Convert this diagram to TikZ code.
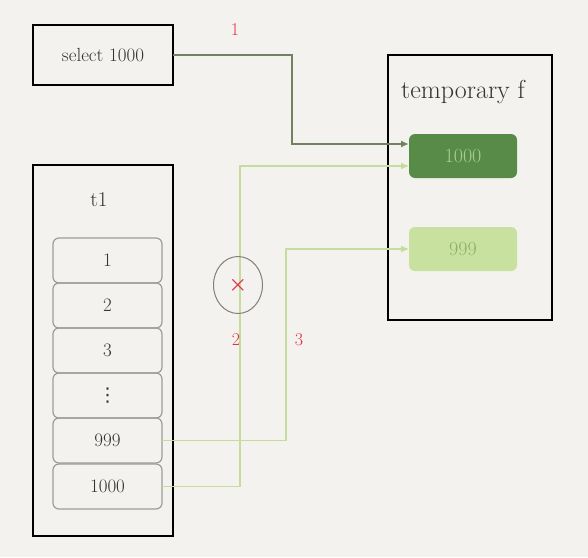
\documentclass[tikz,border=0pt]{standalone}
\usepackage{amsmath}
\usepackage{fontspec}
\newfontfamily\symfont{DejaVu Sans}
\usetikzlibrary{arrows.meta,shapes.geometric}

\definecolor{paper}{HTML}{F3F2EE}
\definecolor{darkline}{HTML}{718260}
\definecolor{lightline}{HTML}{C6DC9C}
\definecolor{darkfill}{HTML}{578B47}
\definecolor{darktext}{HTML}{A9D08A}
\definecolor{lightfill}{HTML}{C8E19F}
\definecolor{lighttext}{HTML}{8EAE6C}
\definecolor{rowline}{HTML}{9C9C9C}
\definecolor{markred}{HTML}{E03347}
\definecolor{ink}{HTML}{333333}

\tikzset{
  box/.style={draw=black, line width=1.4pt, outer sep=0pt, inner sep=0pt, text=ink},
  rowbox/.style={draw=rowline, line width=1.2pt, rounded corners=6pt, outer sep=0pt,
    minimum width=109pt, minimum height=45pt, text=ink, font=\fontsize{19}{22}\selectfont},
  cell/.style={rounded corners=6pt, outer sep=0pt, minimum width=108pt, minimum height=44pt,
    font=\fontsize{20}{24}\selectfont},
  step label/.style={text=markred, font=\fontsize{18}{22}\selectfont},
  darkarrow/.style={draw=darkline, line width=1.6pt, -{Latex[length=8pt,width=7pt]}},
  lightarrow/.style={draw=lightline, line width=1.1pt, -{Latex[length=8pt,width=7pt]}}
}

\begin{document}
\begin{tikzpicture}[x=1pt,y=-1pt]

\fill[paper] (0,0) rectangle (588,557);
\useasboundingbox (0,0) rectangle (588,557);

\node[box, minimum width=140pt, minimum height=60pt, font=\fontsize{19}{22}\selectfont] (select) at (103,55) {select 1000};
\node[step label] (one) at (235,30) {1};

\node[box, minimum width=164pt, minimum height=265pt] (temp) at (470,187.5) {};
\node[text=ink, font=\fontsize{26}{30}\selectfont] (templabel) at (463,92) {temporary f};
\node[cell, fill=darkfill, text=darktext] (f1000) at (463,156) {1000};
\node[cell, fill=lightfill, text=lighttext] (f999) at (463,249) {999};

\node[box, minimum width=140pt, minimum height=371pt] (t1) at (103,350.5) {};
\node[text=ink, font=\fontsize{21}{24}\selectfont] (t1label) at (99,200) {t1};
\node[rowbox] (r1) at (107.5,260.5) {1};
\node[rowbox] (r2) at (107.5,305.5) {2};
\node[rowbox] (r3) at (107.5,350.5) {3};
\node[rowbox] (rdots) at (107.5,395.5) {\symfont ⋮};
\node[rowbox] (r999) at (107.5,440.5) {999};
\node[rowbox] (r1000) at (107.5,486.5) {1000};

\coordinate (bend1) at (292,144);
\coordinate (bend2) at (240,166);
\coordinate (bend3) at (286,249);

\draw[darkarrow] (select.east) -| (bend1) -- (bend1 -| f1000.west);
\draw[lightarrow] (r1000.east) -| (bend2) -- (bend2 -| f1000.west);
\draw[lightarrow] (r999.east) -| (bend3) -- (f999.west);

\node[draw=gray, line width=1pt, ellipse, minimum width=49pt, minimum height=57pt, inner sep=0pt] (stop) at (238,285) {};
\node[text=markred, font=\fontsize{22}{24}\selectfont] (cross) at (stop.center) {$\boldsymbol{\times}$};
\node[step label] (two) at (236,340) {2};
\node[step label] (three) at (299,340) {3};

\end{tikzpicture}
\end{document}
